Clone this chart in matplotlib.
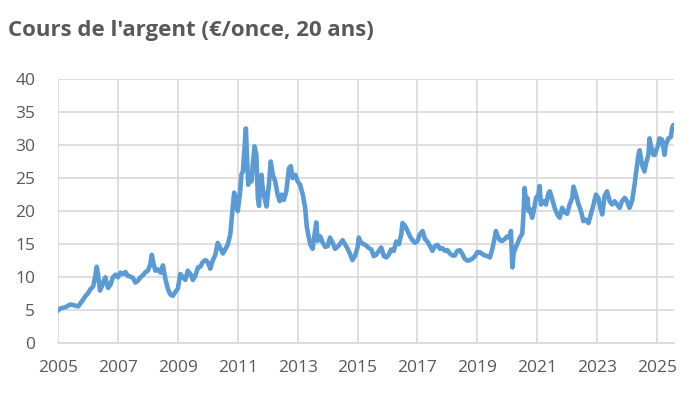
import matplotlib
matplotlib.use("Agg")
import matplotlib.pyplot as plt

# Silver price in EUR per ounce (decimal years)
dates_2005_2009 = [2005.00, 2005.08, 2005.17, 2005.25, 2005.33, 2005.42, 2005.50, 2005.58, 2005.67, 2005.75,
                   2005.83, 2005.92, 2006.00, 2006.08, 2006.17, 2006.25, 2006.29, 2006.33, 2006.40, 2006.46,
                   2006.54, 2006.58, 2006.63, 2006.67, 2006.75, 2006.83, 2006.92, 2007.00, 2007.08, 2007.17,
                   2007.25, 2007.33, 2007.42, 2007.50, 2007.58, 2007.67, 2007.75, 2007.83, 2007.92, 2008.00,
                   2008.08, 2008.13, 2008.18, 2008.25, 2008.33, 2008.42, 2008.50, 2008.58, 2008.67, 2008.75,
                   2008.83, 2008.92]
prices_2005_2009 = [5.0, 5.3, 5.4, 5.5, 5.7, 5.9, 5.8, 5.7, 5.6, 6.1,
                    6.6, 7.2, 7.6, 8.2, 8.6, 10.4, 11.6, 10.5, 8.0, 8.6,
                    9.6, 10.0, 9.0, 8.4, 8.9, 10.0, 10.4, 10.0, 10.7, 10.5,
                    10.8, 10.2, 10.1, 9.9, 9.2, 9.5, 10.0, 10.3, 10.8, 11.0,
                    12.0, 13.4, 12.2, 11.0, 11.2, 10.7, 11.8, 9.8, 8.2, 7.4,
                    7.2, 7.8]

dates_2009_2013 = [2009.00, 2009.08, 2009.17, 2009.25, 2009.33, 2009.42, 2009.50, 2009.58, 2009.67, 2009.75,
                   2009.83, 2009.92, 2010.00, 2010.08, 2010.17, 2010.25, 2010.33, 2010.42, 2010.50, 2010.58,
                   2010.67, 2010.75, 2010.83, 2010.88, 2010.92, 2011.00, 2011.08, 2011.12, 2011.17, 2011.21,
                   2011.27, 2011.31, 2011.35, 2011.40, 2011.46, 2011.50, 2011.56, 2011.62, 2011.67, 2011.71,
                   2011.75, 2011.79, 2011.83, 2011.92, 2011.96, 2012.04, 2012.10, 2012.17, 2012.25, 2012.33,
                   2012.40, 2012.46, 2012.54, 2012.62, 2012.71, 2012.77, 2012.83, 2012.92]
prices_2009_2013 = [8.3, 10.5, 10.0, 9.6, 11.0, 10.5, 9.6, 10.2, 11.5, 11.6,
                    12.3, 12.6, 12.3, 11.3, 12.6, 13.4, 15.2, 14.4, 13.6, 14.2,
                    15.0, 16.5, 20.5, 22.8, 22.0, 20.0, 23.0, 25.5, 26.0, 28.5,
                    32.5, 28.0, 24.0, 25.5, 24.5, 27.0, 29.8, 28.5, 22.0, 20.8,
                    24.0, 25.5, 23.5, 21.5, 20.7, 24.0, 27.5, 25.5, 24.5, 22.5,
                    21.5, 22.5, 21.7, 23.0, 26.5, 26.8, 25.0, 25.5]

dates_2013_2019 = [2013.00, 2013.08, 2013.17, 2013.25, 2013.30, 2013.35, 2013.42, 2013.50, 2013.58, 2013.62,
                   2013.67, 2013.75, 2013.83, 2013.92, 2014.00, 2014.08, 2014.17, 2014.25, 2014.33, 2014.42,
                   2014.50, 2014.58, 2014.67, 2014.75, 2014.83, 2014.92, 2015.00, 2015.04, 2015.12, 2015.21,
                   2015.29, 2015.38, 2015.46, 2015.54, 2015.62, 2015.71, 2015.79, 2015.88, 2015.96, 2016.04,
                   2016.12, 2016.21, 2016.29, 2016.38, 2016.46, 2016.50, 2016.58, 2016.67, 2016.75, 2016.83,
                   2016.92, 2017.00, 2017.08, 2017.17, 2017.25, 2017.33, 2017.42, 2017.50, 2017.58, 2017.67,
                   2017.75, 2017.83, 2017.92, 2018.00, 2018.08, 2018.17, 2018.25, 2018.33, 2018.42, 2018.50,
                   2018.58, 2018.67, 2018.75, 2018.83, 2018.92]
prices_2013_2019 = [24.5, 24.0, 22.5, 20.5, 17.8, 16.5, 15.0, 14.3, 17.0, 18.3,
                    15.5, 16.2, 15.3, 14.6, 14.7, 16.0, 15.2, 14.3, 14.6, 15.1,
                    15.6, 15.0, 14.3, 13.5, 12.6, 13.3, 14.5, 16.0, 15.2, 15.0,
                    14.8, 14.4, 14.2, 13.2, 13.4, 14.0, 14.5, 13.2, 13.0, 13.4,
                    14.2, 14.0, 15.4, 15.0, 16.5, 18.2, 17.8, 17.0, 16.2, 15.6,
                    15.2, 15.5, 16.5, 17.0, 15.8, 15.4, 14.7, 14.0, 14.7, 14.9,
                    14.3, 14.4, 14.0, 14.1, 13.6, 13.3, 13.3, 14.0, 14.1, 13.5,
                    12.8, 12.5, 12.6, 12.8, 13.2]

dates_2019_2025 = [2019.00, 2019.08, 2019.17, 2019.25, 2019.33, 2019.42, 2019.50, 2019.58, 2019.62, 2019.67,
                   2019.75, 2019.83, 2019.92, 2020.00, 2020.08, 2020.12, 2020.17, 2020.21, 2020.25, 2020.33,
                   2020.42, 2020.50, 2020.54, 2020.58, 2020.63, 2020.67, 2020.71, 2020.75, 2020.83, 2020.88,
                   2020.96, 2021.04, 2021.08, 2021.12, 2021.21, 2021.29, 2021.38, 2021.42, 2021.50, 2021.58,
                   2021.67, 2021.75, 2021.83, 2021.92, 2022.00, 2022.08, 2022.17, 2022.21, 2022.29, 2022.38,
                   2022.46, 2022.54, 2022.62, 2022.71, 2022.79, 2022.88, 2022.96, 2023.04, 2023.12, 2023.17,
                   2023.25, 2023.33, 2023.42, 2023.50, 2023.58, 2023.67, 2023.75, 2023.83, 2023.92, 2024.00,
                   2024.08, 2024.17, 2024.25, 2024.29, 2024.38, 2024.42, 2024.50, 2024.58, 2024.62, 2024.71,
                   2024.75, 2024.79, 2024.88, 2024.92, 2025.00, 2025.04, 2025.08, 2025.17, 2025.25, 2025.29,
                   2025.38, 2025.46, 2025.50, 2025.54, 2025.57]
prices_2019_2025 = [13.8, 13.8, 13.5, 13.3, 13.2, 13.0, 14.3, 16.0, 17.0, 16.3,
                    15.6, 15.5, 15.8, 16.2, 16.0, 17.0, 11.5, 13.5, 14.2, 15.0,
                    16.0, 16.6, 19.5, 23.5, 21.0, 22.0, 20.0, 20.3, 19.0, 20.0,
                    22.0, 22.5, 23.8, 21.0, 21.5, 21.0, 22.8, 23.0, 21.8, 20.5,
                    19.5, 19.0, 20.5, 19.8, 19.6, 21.0, 22.0, 23.7, 22.5, 21.0,
                    20.0, 18.5, 18.7, 18.2, 19.5, 21.0, 22.5, 22.0, 20.3, 19.5,
                    22.3, 23.0, 21.5, 21.0, 21.5, 21.0, 20.5, 21.5, 22.0, 21.5,
                    20.5, 21.6, 24.0, 25.5, 28.5, 29.2, 27.0, 26.0, 27.0, 28.5,
                    31.0, 30.0, 28.5, 28.5, 29.5, 30.0, 31.0, 30.8, 28.5, 30.0,
                    31.0, 31.2, 32.5, 33.0, 32.5]

dates = dates_2005_2009 + dates_2009_2013 + dates_2013_2019 + dates_2019_2025
prices = prices_2005_2009 + prices_2009_2013 + prices_2013_2019 + prices_2019_2025

year_ticks = list(range(2005, 2026, 2))
price_ticks = list(range(0, 41, 5))

grey = "#595959"
plt.rcParams["font.family"] = ["Open Sans", "DejaVu Sans"]

fig = plt.figure(figsize=(7, 3.98), dpi=100)
ax = fig.add_axes([0.083, 0.137, 0.88, 0.665])

ax.plot(dates, prices, color="#5B9BD5", linewidth=3.3, solid_joinstyle="round", zorder=3)

ax.set_xlim(2005, 2025.57)
ax.set_ylim(0, 40)
ax.set_xticks(year_ticks)
ax.set_yticks(price_ticks)
ax.grid(True, color="#D9D9D9", linewidth=1.2)
ax.set_axisbelow(True)

for side in ["top", "right", "left"]:
    ax.spines[side].set_visible(False)
ax.spines["bottom"].set_color("#D9D9D9")
ax.spines["bottom"].set_linewidth(1.2)

ax.tick_params(axis="both", length=0, labelsize=12.5, colors=grey)
ax.tick_params(axis="x", pad=12)
ax.tick_params(axis="y", pad=16.5)

fig.text(0.012, 0.923, "Cours de l'argent (€/once, 20 ans)", fontsize=16, fontweight="bold",
         color=grey, ha="left", va="center")

fig.savefig("out.png", dpi=100)
